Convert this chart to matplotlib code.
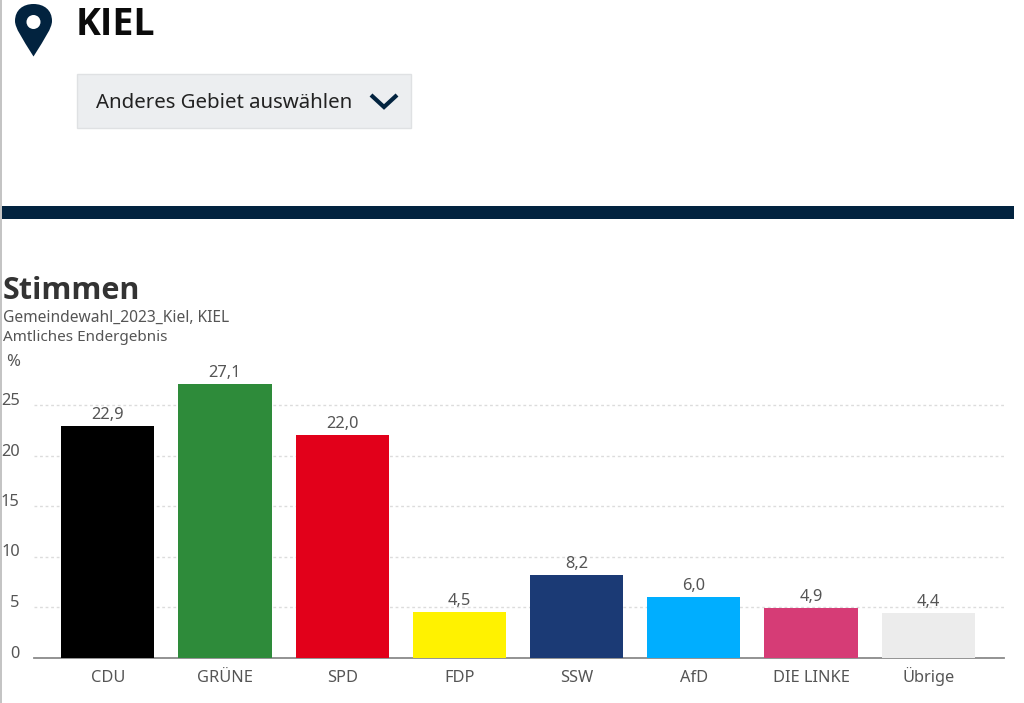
import matplotlib
matplotlib.use("Agg")
import matplotlib.pyplot as plt
from matplotlib.patches import Rectangle, PathPatch, Circle
from matplotlib.path import Path

categories = ["CDU", "GRÜNE", "SPD", "FDP", "SSW", "AfD", "DIE LINKE", "Übrige"]
values = [22.9, 27.1, 22.0, 4.5, 8.2, 6.0, 4.9, 4.4]
value_labels = ["22,9", "27,1", "22,0", "4,5", "8,2", "6,0", "4,9", "4,4"]
bar_colors = ["#000000", "#2e8b3a", "#e2001a", "#fff200", "#1b3a75", "#00aeff", "#d63c76", "#ececec"]
y_ticks = [0, 5, 10, 15, 20, 25]

W, H = 1024, 703
plt.rcParams["font.family"] = ["Noto Sans", "DejaVu Sans"]
fig = plt.figure(figsize=(W / 100, H / 100), dpi=100, facecolor="white")

# page furniture, in pixel coordinates
bg = fig.add_axes([0, 0, 1, 1])
bg.set_xlim(0, W)
bg.set_ylim(H, 0)
bg.axis("off")
navy = "#02233f"
bg.add_patch(Rectangle((0, 0), 1.6, H, color="#c4c4c4", lw=0))
bg.add_patch(Rectangle((2, 206), 1012, 12.5, color=navy, lw=0))
bg.add_patch(Rectangle((76.5, 73.5), 334.5, 54.5, fc="#eceef0", ec="#dfe1e3", lw=1))
pin = Path(
    [(33.5, 56.5), (22, 38), (15, 28), (15, 21), (15, 10), (23, 4), (33.5, 4),
     (44, 4), (52, 10), (52, 21), (52, 28), (45, 38), (33.5, 56.5)],
    [Path.MOVETO] + [Path.CURVE4] * 12,
)
bg.add_patch(PathPatch(pin, fc=navy, ec="none"))
bg.add_patch(Circle((33.5, 22), 7, fc="white", ec="none"))
bg.plot([371, 384, 397], [95, 107, 95], color=navy, lw=3, solid_capstyle="butt", solid_joinstyle="miter")

bg.text(76, 25, "KIEL", fontsize=27, fontweight="bold", family="Open Sans", color="#0b0b0b", va="center", ha="left")
bg.text(96, 103, "Anderes Gebiet auswählen", fontsize=14.7, color="#222222", va="center", ha="left")
bg.text(3, 291, "Stimmen", fontsize=22, fontweight="bold", family="Open Sans", color="#333333", va="center", ha="left")
bg.text(3, 318, "Gemeindewahl_2023_Kiel, KIEL", fontsize=11.2, color="#555555", va="center", ha="left")
bg.text(3, 337.5, "Amtliches Endergebnis", fontsize=11, color="#555555", va="center", ha="left")
bg.text(6, 362, "%", fontsize=12, color="#555555", va="center", ha="left")

# chart
left, right, top, bottom = 33.5, 1004, 370, 657.5
ax = fig.add_axes([left / W, 1 - bottom / H, (right - left) / W, (bottom - top) / H])
ax.patch.set_alpha(0)
ax.set_xlim((left - 107.8) / 117.2, (right - 107.8) / 117.2)
ax.set_ylim(0, (bottom - top) / 10.1)
positions = list(range(len(categories)))
ax.bar(positions, values, width=0.795, color=bar_colors, zorder=3)
for x, v, t in zip(positions, values, value_labels):
    ax.annotate(t, (x, v), xytext=(0, 5), textcoords="offset points", ha="center", va="baseline",
                fontsize=11.8, color="#555555")
ax.set_yticks(y_ticks)
ax.set_xticks(positions, categories)
ax.grid(axis="y", color="#dcdcdc", lw=1, ls=(0, (2, 2)), zorder=0)
ax.set_axisbelow(True)
for s in ("top", "left", "right"):
    ax.spines[s].set_visible(False)
ax.spines["bottom"].set_color("#8a8a8a")
ax.spines["bottom"].set_linewidth(1.3)
ax.tick_params(axis="x", length=0, pad=17.6, labelsize=11.8, labelcolor="#555555")
ax.tick_params(axis="y", length=0, pad=10, labelsize=11.8, labelcolor="#555555")
for lab in ax.get_yticklabels():
    lab.set_verticalalignment("baseline")
for lab in ax.get_xticklabels():
    lab.set_verticalalignment("baseline")

fig.savefig("out.png", dpi=100, facecolor="white")
